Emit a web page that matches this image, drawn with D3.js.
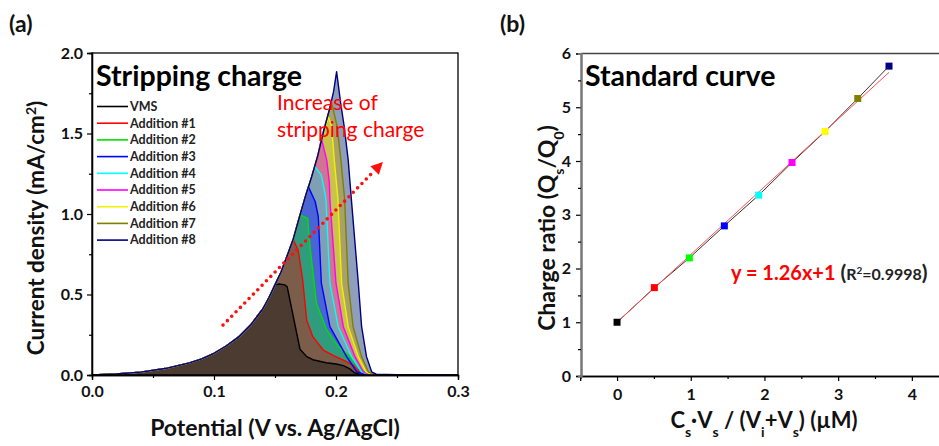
<!DOCTYPE html>
<html>
<head>
<meta charset="utf-8">
<script src="https://cdn.jsdelivr.net/npm/d3@7"></script>
<style>
  body { margin: 0; background: #fff; }
  svg { display: block; }
  text { font-family: Lato, "Open Sans", sans-serif; }
</style>
</head>
<body>
<svg id="chart" width="939" height="446"></svg>
<script>
// ---------- Panel (a): stripping voltammograms ----------
const seriesNames = ["VMS", "Addition #1", "Addition #2", "Addition #3", "Addition #4",
                     "Addition #5", "Addition #6", "Addition #7", "Addition #8"];
const lineColors = ["#000000", "#ff0000", "#00e000", "#0000ff", "#00ffff",
                    "#ff00ff", "#f0f000", "#808000", "#000080"];
const fillColors = ["#4b3b30", "#7b5d4a", "#2f9d7d", "#4a64d6", "#7fa0b4",
                    "#d27393", "#c9c34c", "#a9a16a", "#8e9ebb"];

// Rising edge shared by all scans: [potential (V), current density (mA/cm2)]
const risingEdge = [
  [0.00, 0.000], [0.02, 0.006], [0.04, 0.018], [0.06, 0.040], [0.08, 0.075],
  [0.09, 0.100], [0.10, 0.135], [0.11, 0.180], [0.12, 0.235], [0.13, 0.310],
  [0.135, 0.360], [0.14, 0.410], [0.145, 0.480], [0.15, 0.560], [0.155, 0.640],
  [0.16, 0.740], [0.165, 0.845], [0.17, 0.980], [0.175, 1.110], [0.18, 1.230],
  [0.185, 1.360], [0.19, 1.520], [0.195, 1.660], [0.198, 1.760]
];

// Falling edge of each scan, starting at its peak
const vmsTail = [[0.1535, 0.565], [0.158, 0.560], [0.160, 0.548], [0.164, 0.400], [0.1705, 0.160],
  [0.176, 0.114], [0.181, 0.095], [0.192, 0.076], [0.200, 0.068], [0.206, 0.058], [0.211, 0.040],
  [0.215, 0.015], [0.220, 0.003], [0.230, 0], [0.300, 0]];
const add1Tail = [[0.165, 0.838], [0.169, 0.776], [0.1727, 0.590], [0.176, 0.340], [0.181, 0.238],
  [0.1896, 0.155], [0.198, 0.120], [0.206, 0.093], [0.214, 0.062], [0.2197, 0.014], [0.225, 0.002], [0.300, 0]];
const add2Tail = [[0.1705, 0.994], [0.1768, 0.973], [0.1787, 0.797], [0.184, 0.445], [0.1924, 0.280],
  [0.202, 0.176], [0.2115, 0.114], [0.2197, 0.040], [0.226, 0.003], [0.300, 0]];
const add3Tail = [[0.1773, 1.170], [0.183, 1.076], [0.1855, 0.983], [0.188, 0.570], [0.195, 0.300],
  [0.2087, 0.114], [0.217, 0.020], [0.224, 0.002], [0.300, 0]];
const add4Tail = [[0.1828, 1.294], [0.188, 1.240], [0.191, 1.128], [0.1918, 1.087], [0.195, 0.570],
  [0.2018, 0.300], [0.2128, 0.114], [0.221, 0.020], [0.227, 0.002], [0.300, 0]];
const add5Tail = [[0.188, 1.470], [0.1924, 1.335], [0.1945, 1.200], [0.195, 1.087], [0.200, 0.570],
  [0.206, 0.300], [0.2156, 0.114], [0.2224, 0.020], [0.228, 0.002], [0.300, 0]];
const add6Tail = [[0.194, 1.600], [0.1965, 1.540], [0.1986, 1.335], [0.2015, 1.100], [0.2046, 0.570],
  [0.210, 0.300], [0.2183, 0.114], [0.2246, 0.020], [0.2295, 0.002], [0.300, 0]];
const add7Tail = [[0.1965, 1.690], [0.201, 1.540], [0.204, 1.335], [0.207, 1.100], [0.210, 0.570],
  [0.214, 0.300], [0.221, 0.114], [0.2265, 0.020], [0.231, 0.002], [0.300, 0]];
const add8Tail = [[0.2005, 1.884], [0.2038, 1.690], [0.2068, 1.540], [0.210, 1.335], [0.2125, 1.100],
  [0.2183, 0.570], [0.221, 0.300], [0.225, 0.114], [0.2292, 0.020], [0.233, 0.005], [0.250, 0.002], [0.300, 0]];
const scanTails = [vmsTail, add1Tail, add2Tail, add3Tail, add4Tail, add5Tail, add6Tail, add7Tail, add8Tail];

const potentialTicks = [0, 0.1, 0.2, 0.3];
const potentialMinor = [0.05, 0.15, 0.25];
const currentTicks = [0, 0.5, 1.0, 1.5, 2.0];
const currentMinor = [0.25, 0.75, 1.25, 1.75];
const arrowFrom = [0.1074, 0.31];
const arrowTo = [0.2385, 1.323];

// ---------- Panel (b): standard curve ----------
const concentration = [0, 0.506, 0.981, 1.456, 1.923, 2.374, 2.822, 3.266, 3.690];
const chargeRatio = [1.0, 1.644, 2.197, 2.793, 3.365, 3.972, 4.549, 5.163, 5.765];
const pointColors = ["#000000", "#ff0000", "#00ff00", "#0000ff", "#00ffff",
                     "#ff00ff", "#ffff00", "#808000", "#000080"];
const fitSlope = 1.26;
const fitIntercept = 1;
const concTicks = [0, 1, 2, 3, 4];
const concMinor = [-0.5, 0.5, 1.5, 2.5, 3.5];
const ratioTicks = [0, 1, 2, 3, 4, 5, 6];
const ratioMinor = [0.5, 1.5, 2.5, 3.5, 4.5, 5.5];

const svg = d3.select("#chart");
svg.append("rect").attr("width", 939).attr("height", 446).attr("fill", "#fff");

// ===== Panel (a) =====
const xA = d3.scaleLinear().domain([0, 0.3]).range([92, 458]);
const yA = d3.scaleLinear().domain([0, 2.0]).range([375, 53]);

const scans = scanTails.map((tail, i) => ({
  name: seriesNames[i],
  line: lineColors[i],
  fill: fillColors[i],
  points: risingEdge.filter(p => p[0] < tail[0][0]).concat(tail)
}));

const areaA = d3.area().x(d => xA(d[0])).y0(yA(0)).y1(d => yA(d[1]));
const lineA = d3.line().x(d => xA(d[0])).y(d => yA(d[1]));

const gA = svg.append("g");
// fills, largest scan at the back
scans.slice().reverse().forEach(s => {
  gA.append("path").attr("d", areaA(s.points)).attr("fill", s.fill).attr("stroke", "none");
});
// outlines
scans.forEach(s => {
  gA.append("path").attr("d", lineA(s.points)).attr("fill", "none")
    .attr("stroke", s.line).attr("stroke-width", 1.4).attr("stroke-linejoin", "round");
});

// frame
svg.append("rect").attr("x", 92).attr("y", 53).attr("width", 366).attr("height", 322)
  .attr("fill", "none").attr("stroke", "#000").attr("stroke-width", 1.3);

function styleAxis(g) {
  g.select(".domain").attr("stroke", "#000").attr("stroke-width", 1.3);
  g.selectAll(".tick line").attr("stroke", "#000").attr("stroke-width", 1.2);
  g.selectAll("text").attr("font-size", 16).attr("font-weight", 700).attr("fill", "#111");
}

const axXA = svg.append("g").attr("transform", "translate(0,375)")
  .call(d3.axisBottom(xA).tickValues(potentialTicks).tickFormat(d3.format(".1f")).tickSize(5).tickPadding(6));
styleAxis(axXA);
const axXAm = svg.append("g").attr("transform", "translate(0,375)")
  .call(d3.axisBottom(xA).tickValues(potentialMinor).tickFormat("").tickSize(3));
styleAxis(axXAm);
const axYA = svg.append("g").attr("transform", "translate(92,0)")
  .call(d3.axisLeft(yA).tickValues(currentTicks).tickFormat(d3.format(".1f")).tickSize(5).tickPadding(4));
styleAxis(axYA);
const axYAm = svg.append("g").attr("transform", "translate(92,0)")
  .call(d3.axisLeft(yA).tickValues(currentMinor).tickFormat("").tickSize(3));
styleAxis(axYAm);

// legend
const legA = svg.append("g");
scans.forEach((s, i) => {
  const y = 106.5 + i * 16.7;
  legA.append("line").attr("x1", 97).attr("x2", 128).attr("y1", y).attr("y2", y)
    .attr("stroke", s.line).attr("stroke-width", 1.6);
  legA.append("text").attr("x", 130).attr("y", y + 4.3).attr("font-size", 12.5)
    .attr("font-weight", 700).attr("fill", "#222").text(s.name);
});

svg.append("text").attr("x", 96).attr("y", 86).attr("font-size", 28.5).attr("font-weight", 700)
  .attr("fill", "#000").text("Stripping charge");

svg.append("text").attr("x", 277).attr("y", 110).attr("font-size", 21).attr("fill", "#ff0000")
  .text("Increase of");
svg.append("text").attr("x", 277).attr("y", 137).attr("font-size", 21).attr("fill", "#ff0000")
  .text("stripping charge");

// dotted arrow
{
  const x1 = xA(arrowFrom[0]), y1 = yA(arrowFrom[1]);
  const x2 = xA(arrowTo[0]), y2 = yA(arrowTo[1]);
  const ang = Math.atan2(y2 - y1, x2 - x1);
  const headLen = 12, headHalf = 6;
  const bx = x2 - headLen * Math.cos(ang), by = y2 - headLen * Math.sin(ang);
  svg.append("line").attr("x1", x1).attr("y1", y1).attr("x2", bx).attr("y2", by)
    .attr("stroke", "#ff1010").attr("stroke-width", 3.6).attr("stroke-linecap", "round")
    .attr("stroke-dasharray", "0 6.2");
  const px = -Math.sin(ang), py = Math.cos(ang);
  svg.append("polygon")
    .attr("points", [[x2, y2], [bx + px * headHalf, by + py * headHalf], [bx - px * headHalf, by - py * headHalf]]
      .map(p => p.join(",")).join(" "))
    .attr("fill", "#ff1010");
}

// axis titles
svg.append("text").attr("x", 275).attr("y", 436).attr("text-anchor", "middle")
  .attr("font-size", 23).attr("font-weight", 700).attr("fill", "#111")
  .text("Potential (V vs. Ag/AgCl)");
{
  const t = svg.append("text").attr("transform", "translate(44,228) rotate(-90)")
    .attr("text-anchor", "middle").attr("font-size", 22.5).attr("font-weight", 700).attr("fill", "#111");
  t.append("tspan").text("Current density (mA/cm");
  t.append("tspan").attr("font-size", 14).attr("baseline-shift", "super").text("2");
  t.append("tspan").text(")");
}
svg.append("text").attr("x", 9).attr("y", 32).attr("font-size", 23).attr("font-weight", 700)
  .attr("fill", "#111").text("(a)");

// ===== Panel (b) =====
const xB = d3.scaleLinear().domain([-0.5, 4.5]).range([580.2, 948.7]);
const yB = d3.scaleLinear().domain([0, 6]).range([376, 53.5]);

svg.append("line").attr("x1", 581).attr("x2", 949).attr("y1", 53.5).attr("y2", 53.5)
  .attr("stroke", "#444").attr("stroke-width", 1.3);

const axXB = svg.append("g").attr("transform", "translate(0,376)")
  .call(d3.axisBottom(xB).tickValues(concTicks).tickFormat(d3.format("d")).tickSize(5).tickPadding(8));
styleAxis(axXB);
const axXBm = svg.append("g").attr("transform", "translate(0,376)")
  .call(d3.axisBottom(xB).tickValues(concMinor).tickFormat("").tickSize(3));
styleAxis(axXBm);
const axYB = svg.append("g").attr("transform", "translate(581,0)")
  .call(d3.axisLeft(yB).tickValues(ratioTicks).tickFormat(d3.format("d")).tickSize(5).tickPadding(5));
styleAxis(axYB);
const axYBm = svg.append("g").attr("transform", "translate(581,0)")
  .call(d3.axisLeft(yB).tickValues(ratioMinor).tickFormat("").tickSize(3));
styleAxis(axYBm);
axYB.select(".domain").attr("stroke", "#777").attr("stroke-width", 2);
axYBm.select(".domain").attr("stroke", "#777").attr("stroke-width", 2);

const pts = concentration.map((c, i) => [c, chargeRatio[i]]);
svg.append("path").attr("d", d3.line().x(d => xB(d[0])).y(d => yB(d[1]))(pts))
  .attr("fill", "none").attr("stroke", "#333").attr("stroke-width", 1);
const xFit = d3.extent(concentration);
svg.append("line")
  .attr("x1", xB(xFit[0])).attr("y1", yB(fitSlope * xFit[0] + fitIntercept))
  .attr("x2", xB(xFit[1])).attr("y2", yB(fitSlope * xFit[1] + fitIntercept))
  .attr("stroke", "#ff5050").attr("stroke-width", 1);
svg.append("g").selectAll("rect").data(pts).join("rect")
  .attr("x", d => xB(d[0]) - 3.5).attr("y", d => yB(d[1]) - 3.5)
  .attr("width", 7).attr("height", 7)
  .attr("fill", (d, i) => pointColors[i]);

svg.append("text").attr("x", 585).attr("y", 86).attr("font-size", 28.5).attr("font-weight", 700)
  .attr("fill", "#000").text("Standard curve");

{
  const t = svg.append("text").attr("x", 731).attr("y", 280).attr("font-weight", 700);
  t.append("tspan").attr("font-size", 20).attr("fill", "#ff0000").text("y = 1.26x+1 ");
  t.append("tspan").attr("font-size", 21).attr("fill", "#222").text("(");
  t.append("tspan").attr("font-size", 16).attr("fill", "#222").text("R");
  t.append("tspan").attr("font-size", 10).attr("fill", "#222").attr("baseline-shift", "super").text("2");
  t.append("tspan").attr("font-size", 16).attr("fill", "#222").text("=0.9998");
  t.append("tspan").attr("font-size", 21).attr("fill", "#222").text(")");
}

{
  const t = svg.append("text").attr("x", 764).attr("y", 428).attr("text-anchor", "middle")
    .attr("font-size", 22).attr("font-weight", 700).attr("fill", "#111");
  t.append("tspan").text("C");
  t.append("tspan").attr("font-size", 14).attr("baseline-shift", "sub").text("s");
  t.append("tspan").text("·V");
  t.append("tspan").attr("font-size", 14).attr("baseline-shift", "sub").text("s");
  t.append("tspan").text(" / (V");
  t.append("tspan").attr("font-size", 14).attr("baseline-shift", "sub").text("i");
  t.append("tspan").text("+V");
  t.append("tspan").attr("font-size", 14).attr("baseline-shift", "sub").text("s");
  t.append("tspan").text(") (µM)");
}
{
  const t = svg.append("text").attr("transform", "translate(555,228) rotate(-90)")
    .attr("text-anchor", "middle").attr("font-size", 23).attr("font-weight", 700).attr("fill", "#111");
  t.append("tspan").text("Charge ratio (Q");
  t.append("tspan").attr("font-size", 14).attr("baseline-shift", "sub").text("s");
  t.append("tspan").text("/Q");
  t.append("tspan").attr("font-size", 14).attr("baseline-shift", "sub").text("0");
  t.append("tspan").text(")");
}
svg.append("text").attr("x", 500).attr("y", 32).attr("font-size", 23).attr("font-weight", 700)
  .attr("fill", "#111").text("(b)");
</script>
</body>
</html>
